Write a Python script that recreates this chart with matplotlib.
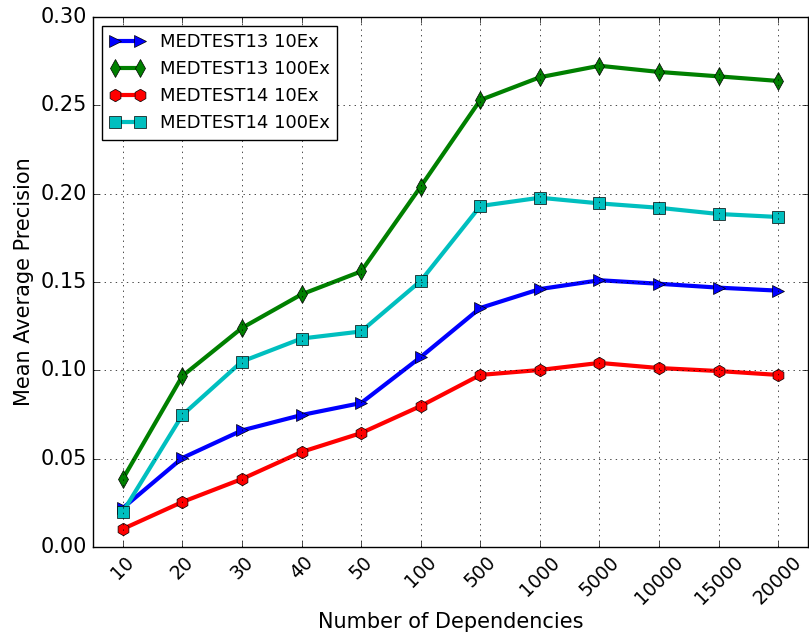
import matplotlib
matplotlib.use('Agg')
import matplotlib.pyplot as plt
import numpy as np

# Данные
dependencies = ['10', '20', '30', '40', '50', '100', '500', '1000',
                '5000', '10000', '15000', '20000']

medtest13_10ex = [0.022, 0.0504, 0.066, 0.0747, 0.0815, 0.1075, 0.1353,
                  0.146, 0.151, 0.149, 0.1468, 0.1451]
medtest13_100ex = [0.0385, 0.0968, 0.124, 0.143, 0.156, 0.204, 0.253,
                   0.2659, 0.2724, 0.2689, 0.2664, 0.2638]
medtest14_10ex = [0.0102, 0.0255, 0.0385, 0.0538, 0.0645, 0.0798, 0.0974,
                  0.1002, 0.1042, 0.1013, 0.0996, 0.0974]
medtest14_100ex = [0.0198, 0.0747, 0.105, 0.118, 0.122, 0.1506, 0.193,
                   0.1977, 0.1945, 0.192, 0.1885, 0.1868]

plt.style.use('classic')
plt.rcParams['font.size'] = 15

fig = plt.figure(figsize=(8.09, 6.35), dpi=100)
ax = fig.add_axes([93 / 809, 1 - 547 / 635, 715 / 809, 530 / 635])

x = np.arange(len(dependencies))
ax.plot(x, medtest13_10ex, 'b>-', label='MEDTEST13 10Ex', linewidth=3, markersize=9)
ax.plot(x, medtest13_100ex, 'gd-', label='MEDTEST13 100Ex', linewidth=3, markersize=9)
ax.plot(x, medtest14_10ex, 'rh-', label='MEDTEST14 10Ex', linewidth=3, markersize=9)
ax.plot(x, medtest14_100ex, 'cs-', label='MEDTEST14 100Ex', linewidth=3, markersize=9)

ax.set_xlim(-0.5, 11.5)
ax.set_ylim(0, 0.30)
ax.set_xticks(x)
ax.set_xticklabels(dependencies, rotation=45, fontsize=13.5)
ax.tick_params(axis='x', pad=4)
ax.set_yticks(np.arange(0, 0.31, 0.05))
ax.set_yticklabels(['%.2f' % v for v in np.arange(0, 0.31, 0.05)])
ax.set_xlabel('Number of Dependencies', fontsize=15, labelpad=3)
ax.set_ylabel('Mean Average Precision', fontsize=15)
ax.grid(True)
ax.legend(loc='upper left', fontsize=13, numpoints=2)

plt.savefig('out.png', dpi=100)
